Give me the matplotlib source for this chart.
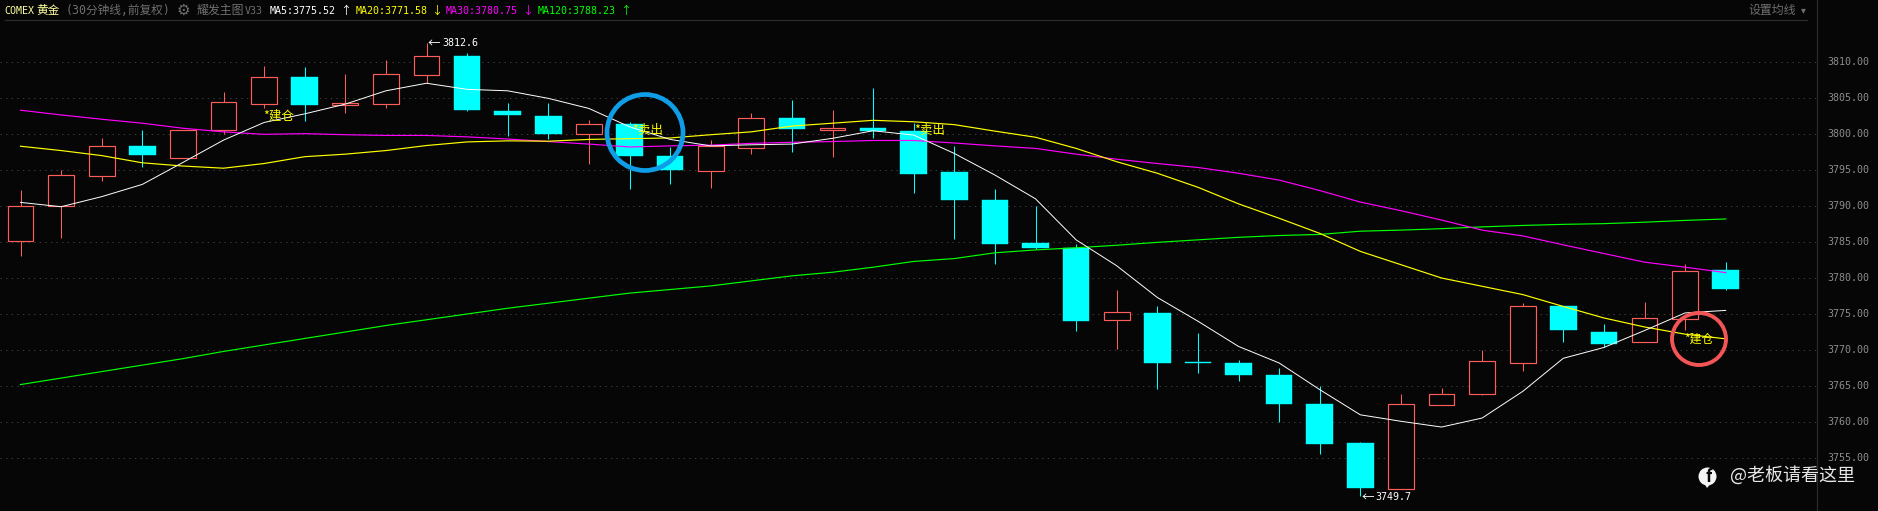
import matplotlib
matplotlib.use("Agg")
import matplotlib.pyplot as plt
from matplotlib.patches import Ellipse, Polygon
from matplotlib.transforms import Affine2D

plt.rcParams['font.family'] = ['Noto Sans CJK SC', 'DejaVu Sans']

W, H = 1878, 511
MONO = ['DejaVu Sans Mono', 'Noto Sans CJK SC']

# candles
opens = [3785.1, 3789.95, 3794.1, 3798.35, 3796.7, 3800.5, 3804.2, 3807.9, 3804.05, 3804.2, 3808.25,
         3810.85, 3803.2, 3802.5, 3800.05, 3801.4, 3796.95, 3794.9, 3798.1, 3802.2, 3800.6, 3800.85,
         3800.4, 3794.7, 3790.85, 3784.9, 3784.2, 3774.1, 3775.2, 3768.3, 3768.25, 3766.55, 3762.55,
         3757.15, 3750.7, 3762.3, 3763.9, 3768.15, 3776.15, 3772.55, 3771.1, 3774.3, 3781.15]
closes = [3789.95, 3794.25, 3798.4, 3797.1, 3800.5, 3804.4, 3807.85, 3804.0, 3804.25, 3808.3, 3810.8,
          3803.35, 3802.65, 3800.0, 3801.35, 3797.0, 3795.0, 3798.3, 3802.2, 3800.7, 3800.9, 3800.35,
          3794.45, 3790.85, 3784.75, 3784.2, 3774.05, 3775.3, 3768.25, 3768.25, 3766.55, 3762.55, 3757.0,
          3750.9, 3762.5, 3763.9, 3768.45, 3776.1, 3772.75, 3770.9, 3774.45, 3781.0, 3778.5]
highs = [3792.2, 3795.0, 3799.45, 3800.55, 3800.5, 3805.85, 3809.45, 3809.25, 3808.35, 3810.3, 3812.6,
         3811.2, 3804.3, 3804.3, 3801.95, 3801.65, 3798.25, 3799.15, 3802.9, 3804.7, 3803.35, 3806.4,
         3801.55, 3798.35, 3792.35, 3790.0, 3784.75, 3778.4, 3776.15, 3772.4, 3768.65, 3767.55, 3764.95,
         3757.25, 3763.95, 3764.75, 3770.05, 3776.55, 3776.15, 3773.65, 3776.7, 3782.0, 3782.25]
lows = [3783.0, 3785.5, 3793.5, 3795.45, 3796.7, 3800.0, 3803.55, 3801.85, 3802.95, 3803.65, 3807.05,
        3803.2, 3799.75, 3799.3, 3795.85, 3792.4, 3793.1, 3792.55, 3797.25, 3797.5, 3796.8, 3799.5,
        3791.8, 3785.4, 3781.95, 3784.05, 3772.6, 3770.1, 3764.55, 3766.85, 3765.75, 3760.05, 3755.6,
        3749.7, 3750.7, 3762.3, 3763.75, 3767.05, 3771.05, 3770.4, 3771.1, 3772.8, 3778.4]

ma5 = [3790.5, 3789.9, 3791.3, 3793.0, 3796.05, 3799.15, 3801.6, 3802.8, 3804.15, 3806.0, 3807.05,
       3806.2, 3806.0, 3804.95, 3803.55, 3801.0, 3799.25, 3798.35, 3798.5, 3798.6, 3799.4, 3800.45,
       3799.85, 3797.3, 3794.3, 3791.0, 3785.3, 3781.7, 3777.3, 3774.0, 3770.5, 3768.2, 3764.5,
       3761.0, 3760.1, 3759.3, 3760.55, 3764.25, 3768.85, 3770.35, 3772.7, 3775.15, 3775.5]
ma20 = [3798.3, 3797.7, 3797.0, 3796.0, 3795.55, 3795.25, 3795.9, 3796.85, 3797.2, 3797.7, 3798.4,
        3798.9, 3799.05, 3799.0, 3799.25, 3799.35, 3799.45, 3799.9, 3800.3, 3801.1, 3801.5, 3801.9,
        3801.7, 3801.3, 3800.4, 3799.55, 3798.0, 3796.15, 3794.55, 3792.6, 3790.3, 3788.3, 3786.2,
        3783.7, 3781.85, 3780.0, 3778.85, 3777.7, 3776.05, 3774.45, 3773.2, 3772.2, 3771.55]
ma30 = [3803.3, 3802.65, 3802.05, 3801.5, 3800.8, 3800.3, 3799.95, 3800.05, 3799.9, 3799.8, 3799.8,
        3799.6, 3799.3, 3798.95, 3798.6, 3798.2, 3798.35, 3798.45, 3798.7, 3798.85, 3798.95, 3799.1,
        3799.1, 3798.75, 3798.35, 3798.0, 3797.2, 3796.5, 3795.9, 3795.35, 3794.55, 3793.6, 3792.15,
        3790.55, 3789.35, 3788.05, 3786.65, 3785.85, 3784.6, 3783.4, 3782.2, 3781.5, 3780.75]
ma120 = [3765.2, 3766.1, 3767.0, 3767.9, 3768.8, 3769.8, 3770.7, 3771.6, 3772.5, 3773.4, 3774.2,
         3775.0, 3775.8, 3776.5, 3777.2, 3777.9, 3778.4, 3778.9, 3779.6, 3780.3, 3780.8, 3781.5,
         3782.3, 3782.7, 3783.5, 3783.9, 3784.2, 3784.55, 3784.95, 3785.3, 3785.65, 3785.9, 3786.05,
         3786.5, 3786.65, 3786.85, 3787.1, 3787.3, 3787.45, 3787.55, 3787.75, 3788.0, 3788.2]

price_ticks = [3755, 3760, 3765, 3770, 3775, 3780, 3785, 3790, 3795, 3800, 3805, 3810]

BG = '#060606'
UP = '#ff5c5c'
DOWN = '#00ffff'

fig = plt.figure(figsize=(W / 100, H / 100), dpi=100, facecolor=BG)
ax = fig.add_axes([0, 0, 1, 1], facecolor=BG)
ax.set_xlim(-20.5 / 40.6, (W - 20.5) / 40.6)
ax.set_ylim(3810 - 449 / 7.2, 3810 + 62 / 7.2)
ax.axis('off')

# pixel coordinates for the screen furniture, origin top left
px = Affine2D().scale(1 / W, -1 / H).translate(0, 1) + fig.transFigure


def label(x, y, s, color, size=7.2, ha='left', **kw):
    ax.text(x, y, s, color=color, fontsize=size, ha=ha, va='center', transform=px, **kw)


# grid and frame
for p in price_ticks:
    y = H - ax.transData.transform((0, p))[1]
    ax.plot([0, 1816], [y, y], color='#3c3c3c', lw=0.72, ls=(0, (1.4, 4.2)), transform=px, zorder=1)
    label(1827, y, f'{p}.00', '#8c8c8c', size=7.2, family=MONO)
ax.plot([1816.5, 1816.5], [0, H], color='#2a2a2a', lw=0.9, transform=px, zorder=1)
ax.plot([5, 1807], [20.5, 20.5], color='#2a2a2a', lw=0.9, transform=px, zorder=1)

# candles
for i in range(len(opens)):
    up = closes[i] >= opens[i]
    c = UP if up else DOWN
    ax.vlines(i, lows[i], highs[i], color=c, lw=0.75, zorder=2)
    bottom = min(opens[i], closes[i])
    height = abs(closes[i] - opens[i])
    if up:
        ax.bar(i, height, 0.64, bottom=bottom, facecolor=BG, edgecolor=c, lw=0.85, zorder=3)
    else:
        ax.bar(i, max(height, 0.15), 0.66, bottom=bottom, facecolor=c, edgecolor=c, lw=0.3, zorder=3)

x = list(range(len(ma5)))
ax.plot(x, ma120, color='#00ff00', lw=0.85, zorder=4)
ax.plot(x, ma30, color='#ff00ff', lw=0.85, zorder=4)
ax.plot(x, ma20, color='#ffff00', lw=0.85, zorder=5)
ax.plot(x, ma5, color='#ffffff', lw=0.7, zorder=6)

# header row
label(4, 10.5, 'COMEX', '#ffffa0', size=7.2, family=MONO)
label(36, 10.5, '黄金', '#ffffa0', size=8.4)
label(66, 10.5, '(30分钟线,前复权)', '#6e6e6e', size=8.4, family=MONO)
label(183, 10.5, '⚙', '#6e6e6e', size=11, ha='center')
label(197, 10.5, '耀发主图', '#6e6e6e', size=8.6)
label(245, 10.5, 'V33', '#6e6e6e', size=7.2, family=MONO)
label(270, 10.5, 'MA5:3775.52', '#ffffff', size=7.2, family=MONO)
label(346, 10.5, '↑', '#ffffff', size=8, ha='center')
label(356, 10.5, 'MA20:3771.58', '#ffff00', size=7.2, family=MONO)
label(437, 10.5, '↓', '#ffff00', size=8, ha='center')
label(446, 10.5, 'MA30:3780.75', '#ff00ff', size=7.2, family=MONO)
label(528, 10.5, '↓', '#ff00ff', size=8, ha='center')
label(538, 10.5, 'MA120:3788.23', '#00ff00', size=7.2, family=MONO)
label(626, 10.5, '↑', '#00ff00', size=8, ha='center')
label(1748, 10.5, '设置均线', '#6e6e6e', size=8.6)
label(1803, 10.5, '▾', '#6e6e6e', size=7, ha='center')

# high / low markers
label(428, 43.5, '←', '#ffffff', size=9)
label(442, 43.5, '3812.6', '#ffffff', size=7.2, family=MONO)
label(1362, 497, '←', '#ffffff', size=9)
label(1375, 497, '3749.7', '#ffffff', size=7.2, family=MONO)

# trade marks
label(263, 116, '*建仓', '#ffff00', size=9, zorder=7)
label(632, 130, '*卖出', '#ffff00', size=9, zorder=7)
label(914, 130.5, '*卖出', '#ffff00', size=9, zorder=7)
label(1684, 339, '*建仓', '#ffff00', size=8.6, zorder=7)

# hand drawn circles
ax.add_patch(Ellipse((645, 132.5), 76, 76, fill=False, ec='#0f9de8', lw=3.4, transform=px, zorder=8))
ax.add_patch(Ellipse((1699, 339), 54, 52, fill=False, ec='#f25555', lw=2.8, transform=px, zorder=8))

# watermark
ax.add_patch(Ellipse((1707.5, 476.5), 18, 18, fc='#f4f4f4', ec='none', transform=px, zorder=8))
ax.add_patch(Polygon([(1704, 483), (1711, 483), (1707, 488)], fc='#f4f4f4', ec='none', transform=px, zorder=8))
label(1708.5, 477, 'f', '#060606', size=12, ha='center', weight='bold', zorder=9)
label(1730, 475, '@老板请看这里', '#e8e8e8', size=13, zorder=8)

fig.savefig('out.png', dpi=100, facecolor=BG)
